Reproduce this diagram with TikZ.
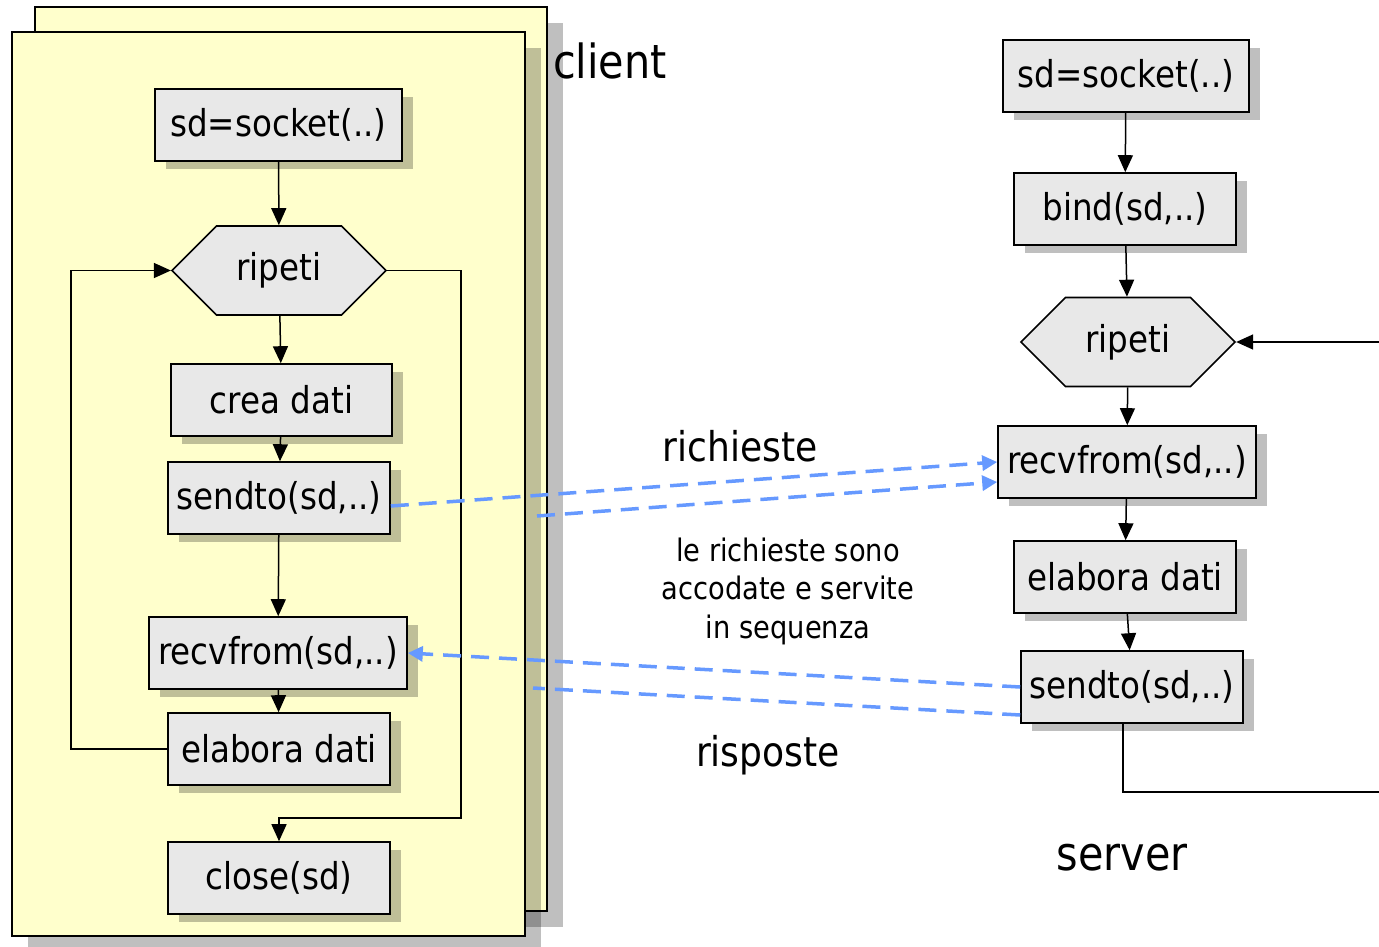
\documentclass[tikz,border=0pt]{standalone}
\usepackage{fontspec}
\setmainfont{DejaVu Sans}[FakeStretch=0.88]
\usetikzlibrary{arrows.meta, shapes.symbols, shadows}

\definecolor{notepad}{HTML}{FFFFCC}
\definecolor{boxgray}{HTML}{E8E8E8}
\definecolor{msgblue}{HTML}{6699FF}

\tikzset{
  opbox/.style={draw, line width=1.6pt, fill=boxgray, minimum height=72pt, inner sep=0pt,
    font=\fontsize{37}{44}\selectfont,
    drop shadow={shadow xshift=11pt, shadow yshift=-8pt, fill=black, opacity=.25}},
  loopbox/.style={signal, signal to=west and east, signal pointer angle=90, draw,
    line width=1.6pt, fill=boxgray, minimum width=214pt, minimum height=89pt,
    inner sep=0pt, font=\fontsize{37}{44}\selectfont},
  flow/.style={line width=1.5pt, -{Triangle[length=17pt,width=15pt]}},
  msg/.style={msgblue, line width=3.5pt, dash pattern=on 18pt off 10pt},
  msgtip/.style={msg, -{Triangle[length=15pt,width=15pt]}},
  sheet/.style={draw, line width=1.8pt, fill=notepad},
  sheetshadow/.style={fill=black, opacity=.25},
  label/.style={inner sep=0pt}
}

\begin{document}
\begin{tikzpicture}[x=1pt, y=-1pt]
\clip (0,0) rectangle (1379,946);

% client sheets
\fill[sheetshadow] (51,23) rectangle (563,927);
\draw[sheet] (35,7) rectangle (547,911);
\fill[sheetshadow] (28,48) rectangle (541,952);
\draw[sheet] (12,32) rectangle (525,936);

% client
\node[opbox, minimum width=247pt] (csock) at (278.5,125) {sd=socket(..)};
\node[loopbox] (crip) at (279,270.5) {ripeti};
\node[opbox, minimum width=221pt] (ccrea) at (281.5,400) {crea dati};
\node[opbox, minimum width=222pt] (csend) at (279,498) {sendto(sd,..)};
\node[opbox, minimum width=258pt] (crecv) at (278,653) {recvfrom(sd,..)};
\node[opbox, minimum width=222pt] (celab) at (279,749) {elabora dati};
\node[opbox, minimum width=222pt] (cclose) at (279,878) {close(sd)};

\draw[flow] (csock) -- (crip);
\draw[flow] (crip) -- (ccrea);
\draw[flow] (ccrea) -- (csend);
\draw[flow] (csend) -- (crecv);
\draw[flow] (crecv) -- (celab);
\draw[flow] (celab.west) -- ++(-96,0) |- (crip.west);
\draw[flow] (crip.east) -- ++(74,0) |- ([yshift=23pt]cclose.north) -- (cclose.north);

% server
\node[opbox, minimum width=246pt] (ssock) at (1126,76) {sd=socket(..)};
\node[opbox, minimum width=222pt] (sbind) at (1125,209) {bind(sd,..)};
\node[loopbox] (srip) at (1128,342) {ripeti};
\node[opbox, minimum width=258pt] (srecv) at (1127,462) {recvfrom(sd,..)};
\node[opbox, minimum width=222pt] (selab) at (1125,577) {elabora dati};
\node[opbox, minimum width=222pt] (ssend) at (1132,687) {sendto(sd,..)};
\coordinate (sin) at (1379,342);
\coordinate (sout) at (1379,792);

\draw[flow] (ssock) -- (sbind);
\draw[flow] (sbind) -- (srip);
\draw[flow] (srip) -- (srecv);
\draw[flow] (srecv) -- (selab);
\draw[flow] (selab) -- (ssend);
\draw[flow] (sin) -- (srip.east);
\draw[line width=1.5pt] ([xshift=-9pt]ssend.south) |- (sout);

% messages
\coordinate (req2) at (537,516);
\coordinate (resp2) at (533,688);
\draw[msgtip] ([yshift=-8pt]csend.east) -- (srecv.west);
\draw[msgtip] (req2) -- ([yshift=-20pt]srecv.west);
\draw[msgtip] (ssend.west) -- (crecv.east);
\draw[msg] ([yshift=-28pt]ssend.west) -- (resp2);

% labels
\node[label, anchor=west, font=\fontsize{47}{56}\selectfont] (lclient) at (553,61) {client};
\node[label, font=\fontsize{47}{56}\selectfont] (lserver) at (1122,858) {server};
\node[label, font=\fontsize{41}{49}\selectfont] (lreq) at (740,446) {richieste};
\node[label, font=\fontsize{41}{49}\selectfont] (lresp) at (768,755) {risposte};
\node[label, align=center, font=\fontsize{31}{38.5}\selectfont] (lnote) at (788,591)
  {le richieste sono\\accodate e servite\\in sequenza};
\end{tikzpicture}
\end{document}
